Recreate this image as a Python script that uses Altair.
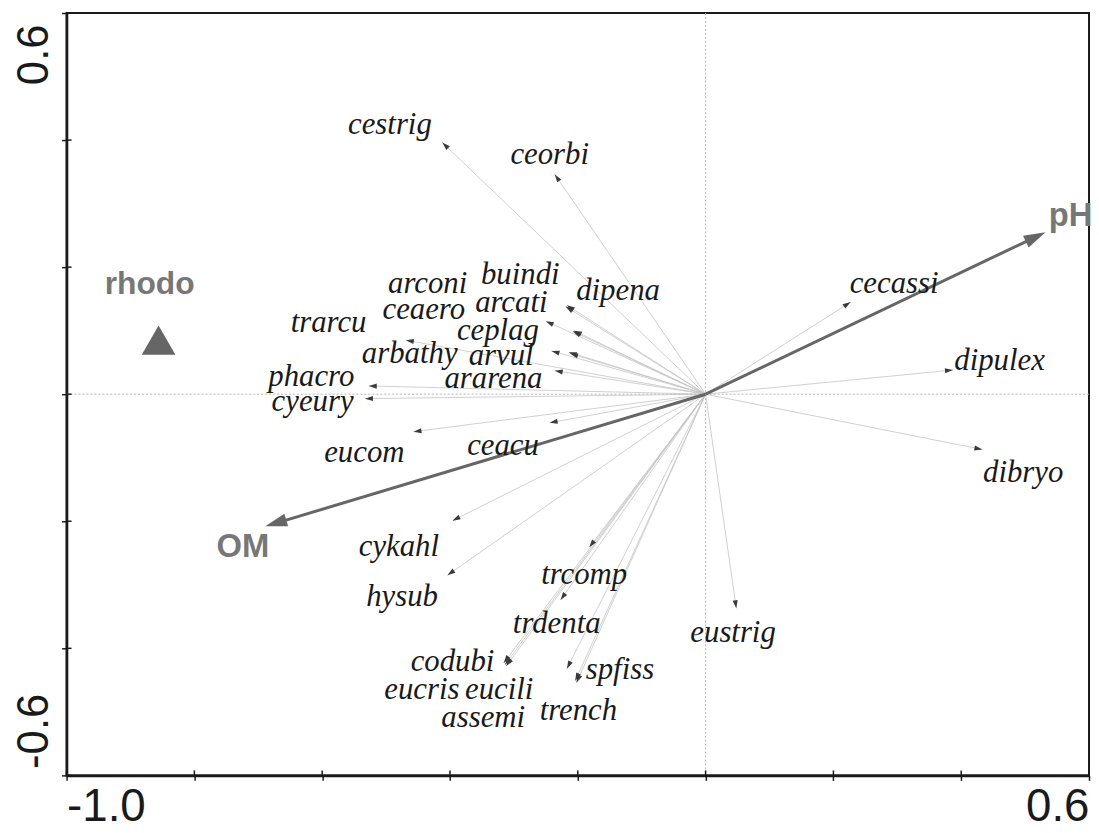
import math
import altair as alt
import pandas as pd

# ---------------- data ----------------
species = ["cestrig", "ceorbi", "dipena", "buindi", "arcati", "arconi", "ceaero",
           "ceplag", "arbathy", "arvul", "ararena", "trarcu", "phacro", "cyeury",
           "eucom", "ceacu", "cykahl", "hysub", "trcomp", "trdenta", "codubi",
           "eucris", "eucili", "spfiss", "trench", "assemi", "eustrig", "cecassi",
           "dipulex", "dibryo"]
arrow_x = [-0.412, -0.236, -0.219, -0.217, -0.250, -0.208, -0.206, -0.214, -0.241,
           -0.212, -0.236, -0.469, -0.527, -0.533, -0.457, -0.244, -0.396, -0.404,
           -0.182, -0.227, -0.314, -0.316, -0.312, -0.217, -0.202, -0.204, 0.048,
           0.227, 0.387, 0.433]
arrow_y = [0.396, 0.346, 0.138, 0.140, 0.115, 0.099, 0.100, 0.066, 0.068, 0.064,
           0.037, 0.085, 0.013, -0.007, -0.059, -0.045, -0.199, -0.285, -0.241,
           -0.324, -0.426, -0.423, -0.428, -0.432, -0.454, -0.451, -0.337, 0.145,
           0.038, -0.087]
label_x = [-0.494, -0.244, -0.137, -0.290, -0.304, -0.435, -0.441, -0.325, -0.463,
           -0.320, -0.332, -0.590, -0.617, -0.615, -0.534, -0.317, -0.480, -0.475,
           -0.190, -0.233, -0.396, -0.444, -0.323, -0.134, -0.199, -0.348, 0.043,
           0.295, 0.460, 0.497]
label_y = [0.424, 0.376, 0.162, 0.188, 0.143, 0.173, 0.132, 0.099, 0.063, 0.060,
           0.024, 0.112, 0.027, -0.013, -0.093, -0.082, -0.240, -0.320, -0.284,
           -0.362, -0.421, -0.465, -0.465, -0.435, -0.499, -0.510, -0.376, 0.174,
           0.052, -0.124]

env_names = ["pH", "OM"]
env_x = [0.532, -0.689]
env_y = [0.255, -0.208]
env_label_x = [0.571, -0.724]
env_label_y = [0.280, -0.241]

sample_names = ["rhodo"]
sample_x = [-0.856]
sample_y = [0.085]
sample_label_x = [-0.870]
sample_label_y = [0.173]

x_ticks = [-1.0, -0.8, -0.6, -0.4, -0.2, 0.0, 0.2, 0.4, 0.6]
y_ticks = [-0.6, -0.4, -0.2, 0.0, 0.2, 0.4, 0.6]
x_tick_labels = {-1.0: "-1.0", 0.6: "0.6"}
y_tick_labels = {-0.6: "-0.6", 0.6: "0.6"}

# ---------------- layout ----------------
W, H = 1030, 768
XDOM, YDOM = [-1.0, 0.6], [-0.6, 0.6]
sx = W / (XDOM[1] - XDOM[0])
sy = H / (YDOM[1] - YDOM[0])


def bearing(dx, dy):
    return math.degrees(math.atan2(dx * sx, dy * sy)) % 360


sp = pd.DataFrame({"name": species, "x": arrow_x, "y": arrow_y,
                   "lx": label_x, "ly": label_y})
sp["x0"] = 0.0
sp["y0"] = 0.0
sp["ang"] = [bearing(a, b) for a, b in zip(arrow_x, arrow_y)]

env = pd.DataFrame({"name": env_names, "x": env_x, "y": env_y,
                    "lx": env_label_x, "ly": env_label_y})
env["x0"] = 0.0
env["y0"] = 0.0
env["ang"] = [bearing(a, b) for a, b in zip(env_x, env_y)]
HEAD = 22
ex, ey = [], []
for a, b in zip(env_x, env_y):
    n = math.hypot(a * sx, b * sy)
    ux, uy = a * sx / n, b * sy / n
    ex.append(a - ux * HEAD * 0.6 / sx)
    ey.append(b - uy * HEAD * 0.6 / sy)
env["ex"] = ex
env["ey"] = ey

smp = pd.DataFrame({"name": sample_names, "x": sample_x, "y": sample_y,
                    "lx": sample_label_x, "ly": sample_label_y})

zero = pd.DataFrame({"v": [0.0]})
xt = pd.DataFrame({"v": x_ticks})
yt = pd.DataFrame({"v": y_ticks})

xs = alt.Scale(domain=XDOM, nice=False, zero=False)
ys = alt.Scale(domain=YDOM, nice=False, zero=False)


def lab_expr(d):
    parts = []
    for k, v in d.items():
        parts.append(f"abs(datum.value - ({k})) < 0.001 ? '{v}'")
    return " : ".join(parts) + " : ''"


xaxis = alt.Axis(values=x_ticks, labelExpr=lab_expr(x_tick_labels), grid=False,
                 title=None, domainWidth=3, domainColor="#1a1a1a",
                 tickColor="#1a1a1a", tickWidth=1.5, tickSize=5,
                 labelFont="Liberation Sans", labelFontSize=46,
                 labelColor="#1a1a1a", labelFlush=True, labelPadding=4,
                 labelOverlap=False)
yaxis = alt.Axis(values=y_ticks, labelExpr=lab_expr(y_tick_labels), grid=False,
                 title=None, domainWidth=2.5, domainColor="#1a1a1a",
                 tickColor="#1a1a1a", tickWidth=1.5, tickSize=5,
                 labelFont="Liberation Sans", labelFontSize=44,
                 labelColor="#1a1a1a", labelAngle=270, labelBaseline="bottom",
                 labelAlign={"condition": {"test": "datum.value > 0", "value": "right"},
                             "value": "left"},
                 labelOffset={"condition": {"test": "datum.value > 0", "value": 11},
                              "value": -7},
                 labelPadding=5, labelOverlap=False)


def X(f):
    return alt.X(f, type="quantitative", scale=xs, axis=xaxis)


def Y(f):
    return alt.Y(f, type="quantitative", scale=ys, axis=yaxis)


vzero = alt.Chart(zero).mark_rule(color="#b5b5b5", strokeWidth=1, strokeDash=[2, 2]).encode(
    x=X("v"))
hzero = alt.Chart(zero).mark_rule(color="#b5b5b5", strokeWidth=1, strokeDash=[2, 2]).encode(
    y=Y("v"))

xin = alt.Chart(xt).mark_rule(color="#1a1a1a", strokeWidth=1.5).encode(
    x=X("v"), y=alt.value(H), y2=alt.value(H - 5))
yin = alt.Chart(yt).mark_rule(color="#1a1a1a", strokeWidth=1.5).encode(
    y=Y("v"), x=alt.value(0), x2=alt.value(5))

sp_shaft = alt.Chart(sp).mark_rule(color="#c4c4c4", strokeWidth=0.8).encode(
    x=X("x0"), y=Y("y0"), x2="x", y2="y")
sp_head = alt.Chart(sp).mark_point(shape="M0,0L0.32,1L-0.32,1Z", filled=True,
                                   size=256, color="#3a3a3a", opacity=1,
                                   strokeWidth=0).encode(
    x=X("x"), y=Y("y"), angle=alt.Angle("ang:Q", scale=None))

env_shaft = alt.Chart(env).mark_rule(color="#666666", strokeWidth=3).encode(
    x=X("x0"), y=Y("y0"), x2="ex", y2="ey")
env_head = alt.Chart(env).mark_point(shape="M0,0L0.3,1L-0.3,1Z", filled=True,
                                     size=(2 * HEAD) ** 2, color="#666666",
                                     opacity=1, strokeWidth=0).encode(
    x=X("x"), y=Y("y"), angle=alt.Angle("ang:Q", scale=None))

sp_text = alt.Chart(sp).mark_text(font="Liberation Serif", fontStyle="italic",
                                  fontSize=31, color="#1a1a1a", baseline="middle",
                                  align="center").encode(
    x=X("lx"), y=Y("ly"), text="name")

env_text = alt.Chart(env).mark_text(font="Liberation Sans", fontWeight="bold",
                                    fontSize=33, color="#777777", baseline="middle",
                                    align="center").encode(
    x=X("lx"), y=Y("ly"), text="name")

smp_point = alt.Chart(smp).mark_point(shape="triangle-up", filled=True, size=1150,
                                      color="#666666", opacity=1,
                                      strokeWidth=0).encode(x=X("x"), y=Y("y"))
smp_text = alt.Chart(smp).mark_text(font="Liberation Sans", fontWeight="bold",
                                    fontSize=32, color="#777777", baseline="middle",
                                    align="center").encode(
    x=X("lx"), y=Y("ly"), text="name")

chart = alt.layer(
    vzero, hzero, xin, yin, sp_shaft, sp_head, env_shaft, env_head,
    sp_text, env_text, smp_point, smp_text
).properties(
    width=W, height=H,
    autosize=alt.AutoSizeParams(type="none"),
    padding={"left": 59, "top": 2, "right": 2, "bottom": 57},
    background="white",
).configure_view(stroke="#1a1a1a", strokeWidth=2)

chart.save("out.html", embed_options={"renderer": "svg", "actions": False})
